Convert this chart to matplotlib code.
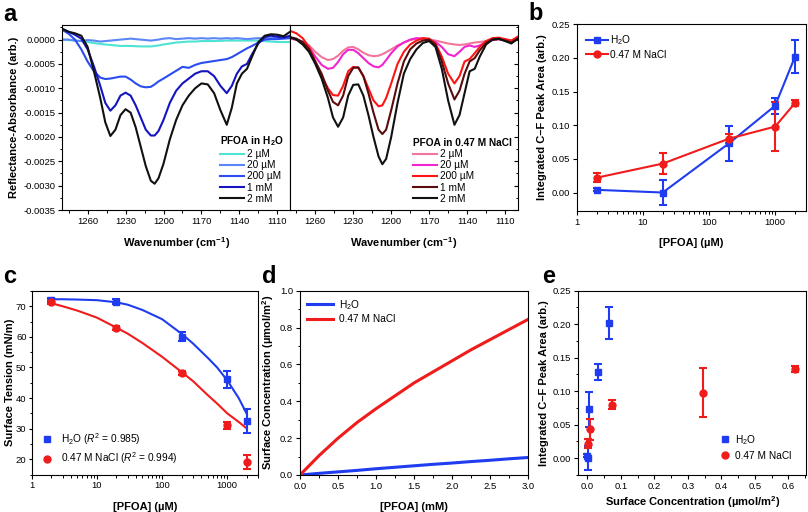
import numpy as np
import matplotlib
matplotlib.use("Agg")
import matplotlib.pyplot as plt
from matplotlib.ticker import MultipleLocator, NullFormatter, LogLocator

plt.rcParams['font.family'] = ['Liberation Sans', 'DejaVu Sans']
plt.rcParams['mathtext.fontset'] = 'custom'
plt.rcParams['mathtext.rm'] = 'Liberation Sans'
plt.rcParams['mathtext.it'] = 'Liberation Sans:italic'
plt.rcParams['mathtext.bf'] = 'Liberation Sans:bold'
plt.rcParams['mathtext.default'] = 'regular'
plt.rcParams['axes.unicode_minus'] = False
plt.rcParams['axes.linewidth'] = 0.8

# ---- panel a: spectra (values in 1e-4 units) ----
wn = [1280, 1275, 1270, 1265, 1260, 1255, 1250, 1246, 1242, 1238, 1234, 1230, 1226, 1222,
      1218, 1214, 1210, 1207, 1204, 1200, 1195, 1190, 1185, 1180, 1175, 1170, 1165, 1160,
      1155, 1150, 1146, 1142, 1138, 1134, 1130, 1125, 1120, 1115, 1110, 1105, 1100]

h2o_2uM = [0.0, -0.1, -0.2, -0.3, -0.5, -0.7, -0.9, -1.0, -1.1, -1.2, -1.3, -1.3, -1.3, -1.35,
           -1.4, -1.4, -1.4, -1.3, -1.2, -1.0, -0.8, -0.6, -0.5, -0.4, -0.4, -0.3, -0.3, -0.3,
           -0.25, -0.2, -0.2, -0.2, -0.2, -0.2, -0.2, -0.2, -0.3, -0.4, -0.5, -0.5, -0.5]
h2o_20uM = [0.0, 0.0, -0.2, -0.3, -0.1, -0.2, -0.4, -0.3, -0.2, -0.1, 0.0, 0.1, 0.2, 0.1,
            0.0, -0.1, -0.2, -0.1, 0.0, 0.2, 0.3, 0.1, 0.2, 0.3, 0.2, 0.3, 0.2, 0.3,
            0.2, 0.3, 0.2, 0.3, 0.2, 0.1, 0.2, 0.3, 0.2, 0.3, 0.5, 0.4, 0.6]
h2o_200uM = [2.0, 1.2, 0.0, -2.0, -4.5, -6.5, -7.8, -8.1, -8.0, -7.8, -7.6, -7.6, -8.2, -9.0,
             -9.6, -9.8, -9.7, -9.2, -8.6, -8.0, -7.2, -6.4, -5.6, -5.8, -5.2, -4.8, -4.6, -4.4,
             -4.2, -4.0, -3.6, -3.0, -2.4, -1.8, -1.3, -0.6, 0.0, 0.1, 0.1, 0.2, 0.3]
h2o_1mM = [2.2, 1.6, 1.0, 0.2, -2.0, -5.5, -9.5, -13.0, -14.6, -13.5, -11.5, -10.9, -11.5, -13.5,
           -16.0, -18.5, -19.7, -19.7, -18.8, -16.5, -13.0, -10.5, -9.0, -8.0, -7.0, -6.5, -6.5, -7.5,
           -9.5, -11.0, -9.5, -7.0, -5.5, -5.0, -3.0, -0.8, 0.5, 0.8, 0.6, 0.4, 0.8]
h2o_2mM = [2.2, 1.6, 1.3, 0.8, -1.5, -6.5, -12.0, -17.0, -19.8, -18.5, -15.5, -14.3, -15.0, -18.0,
           -22.0, -26.0, -29.0, -29.6, -28.5, -25.5, -20.5, -16.5, -13.5, -11.5, -10.0, -9.0, -9.2, -11.0,
           -14.5, -17.5, -14.0, -9.0, -7.0, -6.0, -3.5, -0.5, 0.8, 1.1, 1.0, 0.7, 1.6]

nacl_2uM = [0.2, 0.0, -0.4, -1.2, -2.5, -3.6, -4.2, -4.0, -3.3, -2.3, -1.6, -1.5, -2.0, -2.7,
            -3.2, -3.4, -3.3, -3.0, -2.6, -2.0, -1.2, -0.6, -0.1, 0.2, 0.2, 0.0, -0.2, -0.5,
            -0.8, -1.0, -1.1, -1.0, -0.8, -0.6, -0.5, -0.3, -0.1, 0.1, 0.0, -0.2, 0.1]
nacl_20uM = [0.2, 0.0, -0.5, -1.5, -3.5, -5.2, -6.0, -5.8, -4.6, -3.0, -2.1, -2.1, -2.8, -3.8,
             -4.8, -5.5, -5.7, -5.2, -4.2, -2.8, -1.4, -0.6, 0.0, 0.3, 0.2, 0.0, -0.5, -1.5,
             -3.0, -3.4, -2.5, -1.5, -1.2, -1.5, -1.2, -0.5, -0.1, 0.1, 0.0, -0.3, 0.2]
nacl_200uM = [1.8, 1.3, 0.3, -1.5, -4.5, -7.5, -10.0, -11.4, -11.5, -9.5, -6.5, -5.6, -5.8, -7.5,
              -10.0, -12.5, -13.7, -13.5, -12.0, -9.0, -5.0, -2.5, -1.0, -0.2, 0.3, 0.2, -0.8, -3.5,
              -7.0, -9.0, -7.5, -4.5, -4.0, -2.8, -1.5, -0.3, 0.3, 0.4, 0.1, -0.2, 0.6]
nacl_1mM = [0.5, 0.2, -0.5, -2.0, -4.5, -7.0, -10.5, -12.8, -13.5, -11.5, -7.5, -5.8, -5.7, -7.5,
            -11.0, -15.0, -18.5, -19.4, -18.5, -14.5, -9.0, -4.5, -2.0, -0.8, -0.2, 0.0, -1.0, -4.5,
            -9.0, -12.3, -10.5, -7.0, -4.5, -3.8, -2.2, -0.7, 0.0, 0.1, -0.2, -0.6, 0.1]
nacl_2mM = [0.5, 0.0, -1.0, -2.5, -5.0, -8.0, -12.0, -16.0, -17.9, -16.0, -11.5, -9.3, -9.2, -11.5,
            -15.5, -20.0, -24.0, -25.6, -24.5, -20.0, -13.0, -7.0, -4.0, -2.0, -0.7, -0.3, -1.5, -6.0,
            -12.5, -17.5, -15.5, -11.0, -6.5, -6.0, -3.5, -1.0, 0.0, 0.2, -0.3, -0.8, 0.2]

conc_labels = ['2 µM', '20 µM', '200 µM', '1 mM', '2 mM']
a_yticks = [-0.0035, -0.0030, -0.0025, -0.0020, -0.0015, -0.0010, -0.0005, 0.0]
a_yticklabels = ['-0.0035', '-0.0030', '-0.0025', '-0.0020', '-0.0015', '-0.0010', '-0.0005', '0.0000']

# ---- panels b, c, e ----
pfoa_uM = [2, 20, 200, 1000, 2000]
area_h2o = [0.004, 0.000, 0.073, 0.129, 0.202]
area_h2o_err = [0.002, 0.018, 0.026, 0.012, 0.024]
area_nacl = [0.022, 0.043, 0.080, 0.098, 0.133]
area_nacl_err = [0.007, 0.016, 0.007, 0.037, 0.004]

st_h2o = [72.1, 71.5, 60.1, 46.1, 32.6]
st_h2o_err = [0.6, 0.8, 1.6, 2.7, 3.9]
st_nacl = [71.3, 63.0, 48.1, 31.1, 19.1]
st_nacl_err = [0.6, 0.6, 0.6, 1.2, 2.4]
fit_x = [2, 3, 5, 10, 20, 30, 50, 100, 200, 300, 500, 700, 1000, 1500, 2000]
fit_h2o = [72.3, 72.3, 72.2, 72.0, 71.3, 70.5, 68.8, 65.8, 61.0, 57.8, 53.2, 50.0, 45.8, 40.0, 34.8]
fit_nacl = [71.0, 70.0, 68.6, 66.3, 63.0, 61.0, 58.0, 53.5, 48.5, 45.5, 41.0, 38.2, 35.0, 32.2, 30.0]

# ---- panel d ----
d_mM = [0.0, 0.25, 0.5, 0.75, 1.0, 1.25, 1.5, 1.75, 2.0, 2.25, 2.5, 2.75, 3.0]
gamma_h2o = [0.0, 0.009, 0.017, 0.025, 0.034, 0.042, 0.050, 0.058, 0.065, 0.073, 0.080, 0.088, 0.095]
gamma_nacl = [0.0, 0.105, 0.200, 0.285, 0.36, 0.43, 0.50, 0.56, 0.62, 0.68, 0.735, 0.79, 0.845]

# ---- panel e ----
surf_h2o = [0.0002, 0.0008, 0.006, 0.033, 0.065]
surf_nacl = [0.001, 0.008, 0.075, 0.344, 0.620]

BLUE = '#1f3cf0'
RED = '#f01c1c'
h2o_cols = ['#4fe3d3', '#5b86f5', '#2a4cf0', '#1414c0', '#111111']
nacl_cols = ['#f2769c', '#f224cf', '#ff1414', '#5a0c0c', '#111111']

TICK = 6.8
LAB = 8
LEG = 7.3
W, H = 808, 512


def rect(x0, y0, x1, y1):
    return [x0 / W, 1 - y1 / H, (x1 - x0) / W, (y1 - y0) / H]


def style(ax):
    ax.tick_params(which='both', direction='out', labelsize=TICK, top=False, right=False, pad=2)
    ax.tick_params(which='major', length=3, width=0.8)
    ax.tick_params(which='minor', length=1.8, width=0.7)


fig = plt.figure(figsize=(8.08, 5.12), dpi=100)

# ---------------- a ----------------
axL = fig.add_axes(rect(62.3, 25, 290, 210))
axR = fig.add_axes(rect(290, 25, 517.7, 210))
sets = [(axL, [h2o_2uM, h2o_20uM, h2o_200uM, h2o_1mM, h2o_2mM], h2o_cols, 'PFOA in H$_2$O'),
        (axR, [nacl_2uM, nacl_20uM, nacl_200uM, nacl_1mM, nacl_2mM], nacl_cols, 'PFOA in 0.47 M NaCl')]
for ax, curves, cols, title in sets:
    for c, col, lab in zip(curves, cols, conc_labels):
        ax.plot(wn, np.array(c) * 1e-4, color=col, lw=1.5, label=lab)
    ax.set_xlim(1280, 1100)
    ax.set_ylim(-0.0035, 0.0003)
    ax.set_xticks([1260, 1230, 1200, 1170, 1140, 1110])
    ax.xaxis.set_minor_locator(MultipleLocator(15))
    ax.set_yticks(a_yticks)
    ax.yaxis.set_minor_locator(MultipleLocator(0.00025))
    style(ax)
    ax.set_xlabel('Wavenumber (cm$^{-1}$)', fontsize=LAB, fontweight='bold', labelpad=7)
    leg = ax.legend(title=title, loc='lower right', frameon=False, fontsize=LEG,
                    handlelength=2.4, handletextpad=0.25, labelspacing=0.12,
                    borderaxespad=0.2, alignment='left')
    leg.get_title().set_fontweight('bold')
    leg.get_title().set_fontsize(LEG)
axL.set_yticklabels(a_yticklabels)
axL.tick_params(axis='y', which='both', left=True, direction='out')
axL.set_ylabel('Reflectance-Absorbance (arb.)', fontsize=LAB, fontweight='bold', labelpad=3)
axR.tick_params(axis='y', which='both', left=False, labelleft=False, right=True, direction='in')
axL.tick_params(axis='y', which='both', right=True)
fig.text(3 / W, 1 - 21 / H, 'a', fontsize=17, fontweight='bold')

# ---------------- b ----------------
axb = fig.add_axes(rect(576.7, 24.3, 805.7, 210.7))
axb.errorbar(pfoa_uM, area_h2o, yerr=area_h2o_err, fmt='none', ecolor=BLUE, elinewidth=1.5,
             capsize=2.8, capthick=1.5)
axb.errorbar(pfoa_uM, area_nacl, yerr=area_nacl_err, fmt='none', ecolor=RED, elinewidth=1.5,
             capsize=2.8, capthick=1.5)
axb.plot(pfoa_uM, area_h2o, '-s', color=BLUE, lw=1.5, ms=4.5, label='H$_2$O')
axb.plot(pfoa_uM, area_nacl, '-o', color=RED, lw=1.5, ms=5, label='0.47 M NaCl')
axb.set_xscale('log')
axb.set_xlim(1, 2900)
axb.set_ylim(-0.027, 0.25)
axb.set_xticks([1, 10, 100, 1000])
axb.set_xticklabels(['1', '10', '100', '1000'])
axb.xaxis.set_minor_locator(LogLocator(subs=np.arange(2, 10)))
axb.xaxis.set_minor_formatter(NullFormatter())
axb.set_yticks([0.0, 0.05, 0.10, 0.15, 0.20, 0.25])
axb.set_yticklabels(['0.00', '0.05', '0.10', '0.15', '0.20', '0.25'])
style(axb)
axb.set_xlabel('[PFOA] (µM)', fontsize=LAB, fontweight='bold', labelpad=8)
axb.set_ylabel('Integrated C–F Peak Area (arb.)', fontsize=LAB, fontweight='bold', labelpad=3)
axb.legend(loc='upper left', frameon=False, fontsize=LEG, handlelength=2.2, handletextpad=0.2,
           labelspacing=0.25, borderaxespad=0.5)
fig.text(528 / W, 1 - 20 / H, 'b', fontsize=17, fontweight='bold')

# ---------------- c ----------------
axc = fig.add_axes(rect(31.7, 291, 258.3, 474.5))
axc.plot(fit_x, fit_h2o, color=BLUE, lw=1.5)
axc.plot(fit_x, fit_nacl, color=RED, lw=1.5)
axc.errorbar(pfoa_uM, st_h2o, yerr=st_h2o_err, fmt='s', color=BLUE, ms=4.5, elinewidth=1.5,
             capsize=2.8, capthick=1.5, label='H$_2$O ($\\mathit{R}^2$ = 0.985)')
axc.errorbar(pfoa_uM, st_nacl, yerr=st_nacl_err, fmt='o', color=RED, ms=5, elinewidth=1.5,
             capsize=2.8, capthick=1.5, label='0.47 M NaCl ($\\mathit{R}^2$ = 0.994)')
axc.set_xscale('log')
axc.set_xlim(1, 3000)
axc.set_ylim(15, 75)
axc.set_xticks([1, 10, 100, 1000])
axc.set_xticklabels(['1', '10', '100', '1000'])
axc.xaxis.set_minor_locator(LogLocator(subs=np.arange(2, 10)))
axc.xaxis.set_minor_formatter(NullFormatter())
axc.set_yticks([20, 30, 40, 50, 60, 70])
axc.yaxis.set_minor_locator(MultipleLocator(5))
style(axc)
axc.tick_params(axis='y', which='major', pad=1.2, length=2.5)
axc.set_xlabel('[PFOA] (µM)', fontsize=LAB, fontweight='bold', labelpad=8)
axc.set_ylabel('Surface Tension (mN/m)', fontsize=LAB, fontweight='bold', labelpad=0.5)
hc, lc = axc.get_legend_handles_labels()
axc.legend([h[0] for h in hc], lc, loc='lower left', frameon=False, fontsize=LEG,
           handlelength=1.5, handletextpad=0.6, labelspacing=0.4, borderaxespad=0.4)
fig.text(3 / W, 1 - 283 / H, 'c', fontsize=17, fontweight='bold')

# ---------------- d ----------------
axd = fig.add_axes(rect(300, 290.7, 528.3, 475))
axd.plot(d_mM, gamma_h2o, color=BLUE, lw=2.2, label='H$_2$O')
axd.plot(d_mM, gamma_nacl, color=RED, lw=2.2, label='0.47 M NaCl')
axd.set_xlim(0, 3)
axd.set_ylim(0, 1)
axd.set_xticks([0.0, 0.5, 1.0, 1.5, 2.0, 2.5, 3.0])
axd.set_xticklabels(['0.0', '0.5', '1.0', '1.5', '2.0', '2.5', '3.0'])
axd.set_yticks([0.0, 0.2, 0.4, 0.6, 0.8, 1.0])
axd.set_yticklabels(['0.0', '0.2', '0.4', '0.6', '0.8', '1.0'])
axd.xaxis.set_minor_locator(MultipleLocator(0.25))
axd.yaxis.set_minor_locator(MultipleLocator(0.1))
style(axd)
axd.set_xlabel('[PFOA] (mM)', fontsize=LAB, fontweight='bold', labelpad=8)
axd.set_ylabel('Surface Concentration (µmol/m$^2$)', fontsize=LAB, fontweight='bold', labelpad=3)
axd.legend(loc='upper left', frameon=False, fontsize=LEG, handlelength=2.6, handletextpad=0.5,
           labelspacing=0.25, borderaxespad=0.3)
fig.text(262 / W, 1 - 283 / H, 'd', fontsize=17, fontweight='bold')

# ---------------- e ----------------
axe = fig.add_axes(rect(578.3, 290.7, 806, 475))
axe.errorbar(surf_h2o, area_h2o, yerr=area_h2o_err, fmt='s', color=BLUE, ms=4.5, elinewidth=1.5,
             capsize=2.8, capthick=1.5, label='H$_2$O')
axe.errorbar(surf_nacl, area_nacl, yerr=area_nacl_err, fmt='o', color=RED, ms=5, elinewidth=1.5,
             capsize=2.8, capthick=1.5, label='0.47 M NaCl')
axe.set_xlim(-0.027, 0.653)
axe.set_ylim(-0.025, 0.25)
axe.set_xticks([0.0, 0.1, 0.2, 0.3, 0.4, 0.5, 0.6])
axe.set_xticklabels(['0.0', '0.1', '0.2', '0.3', '0.4', '0.5', '0.6'])
axe.set_yticks([0.0, 0.05, 0.10, 0.15, 0.20, 0.25])
axe.set_yticklabels(['0.00', '0.05', '0.10', '0.15', '0.20', '0.25'])
axe.xaxis.set_minor_locator(MultipleLocator(0.05))
axe.yaxis.set_minor_locator(MultipleLocator(0.025))
style(axe)
axe.set_xlabel('Surface Concentration (µmol/m$^2$)', fontsize=LAB, fontweight='bold', labelpad=2)
axe.set_ylabel('Integrated C–F Peak Area (arb.)', fontsize=LAB, fontweight='bold', labelpad=3)
he, le = axe.get_legend_handles_labels()
axe.legend([h[0] for h in he], le, loc='lower right', frameon=False, fontsize=LEG,
           handlelength=1.2, handletextpad=0.4, labelspacing=0.4, borderaxespad=1.0)
fig.text(542 / W, 1 - 283 / H, 'e', fontsize=17, fontweight='bold')

fig.savefig('out.png', dpi=100)
